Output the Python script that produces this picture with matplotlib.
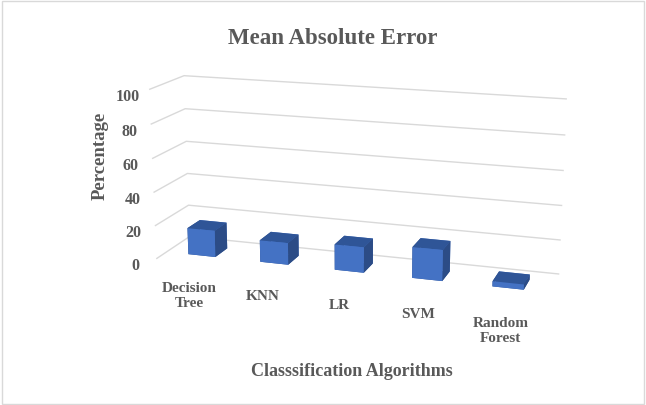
import numpy as np
import matplotlib.pyplot as plt
from mpl_toolkits.mplot3d import Axes3D  # noqa

algorithms = ["Decision\nTree", "KNN", "LR", "SVM", "Random\nForest"]
mae = [16, 13, 15, 18, 3]
z_ticks = [0, 20, 40, 60, 80, 100]

front_col = "#4472C4"
top_col = "#2F5597"
side_col = "#2C4C86"
text_col = "#595959"
serif = ["Liberation Serif", "DejaVu Serif"]

fig = plt.figure(figsize=(6.46, 4.05), dpi=100)
ax = fig.add_axes([0.09, 0.048, 0.9, 0.98], projection="3d")

xs = np.arange(len(mae))
bw = 0.38
bd = 0.38
faces = [top_col, top_col, front_col, front_col, side_col, side_col]
cols = faces * len(mae)
ax.bar3d(xs - bw / 2, np.full(len(mae), 0.3), np.zeros(len(mae)),
         bw, bd, mae, color=cols, shade=False, edgecolor="none")

ax.set_xlim(-0.5, len(mae) - 0.5)
ax.set_ylim(0, 1)
ax.set_zlim(0, 100)
ax.set_box_aspect((5, 1.0, 2.2), zoom=1.1)
ax.set_proj_type("persp", focal_length=0.6)
ax.view_init(elev=15, azim=-72)

ax.set_xticks(xs)
ax.set_xticklabels(algorithms, fontfamily=serif, fontweight="bold",
                   fontsize=11, color=text_col)
ax.set_yticks([])
ax.set_zticks(z_ticks)
ax.set_zticklabels([str(t) for t in z_ticks], fontfamily=serif,
                   fontweight="bold", fontsize=11.5, color=text_col)
ax.zaxis.set_ticks_position("lower")
ax.tick_params(axis="z", pad=0)
ax.tick_params(axis="x", pad=7)

for axis in (ax.xaxis, ax.yaxis, ax.zaxis):
    axis.set_pane_color((1, 1, 1, 0))
    axis.pane.set_edgecolor((1, 1, 1, 0))
    axis.line.set_color((1, 1, 1, 0))
    axis._axinfo["tick"]["inward_factor"] = 0
    axis._axinfo["tick"]["outward_factor"] = 0
ax.xaxis._axinfo["grid"]["color"] = (1, 1, 1, 0)
ax.yaxis._axinfo["grid"]["color"] = (1, 1, 1, 0)
ax.zaxis._axinfo["grid"]["color"] = "#D9D9D9"
ax.zaxis._axinfo["grid"]["linewidth"] = 1.0

fig.text(0.515, 0.905, "Mean Absolute Error", ha="center", va="center",
         fontfamily=serif, fontweight="bold", fontsize=16.5, color=text_col)
fig.text(0.545, 0.082, "Classsification Algorithms", ha="center", va="center",
         fontfamily=serif, fontweight="bold", fontsize=13, color=text_col)
fig.text(0.155, 0.615, "Percentage", ha="center", va="center", rotation=90,
         fontfamily=serif, fontweight="bold", fontsize=13.5, color=text_col)

fig.patches.append(plt.Rectangle((0.003, 0.003), 0.994, 0.994,
                                 transform=fig.transFigure, fill=False,
                                 edgecolor="#D9D9D9", linewidth=1))

fig.savefig("out.png", dpi=100)
